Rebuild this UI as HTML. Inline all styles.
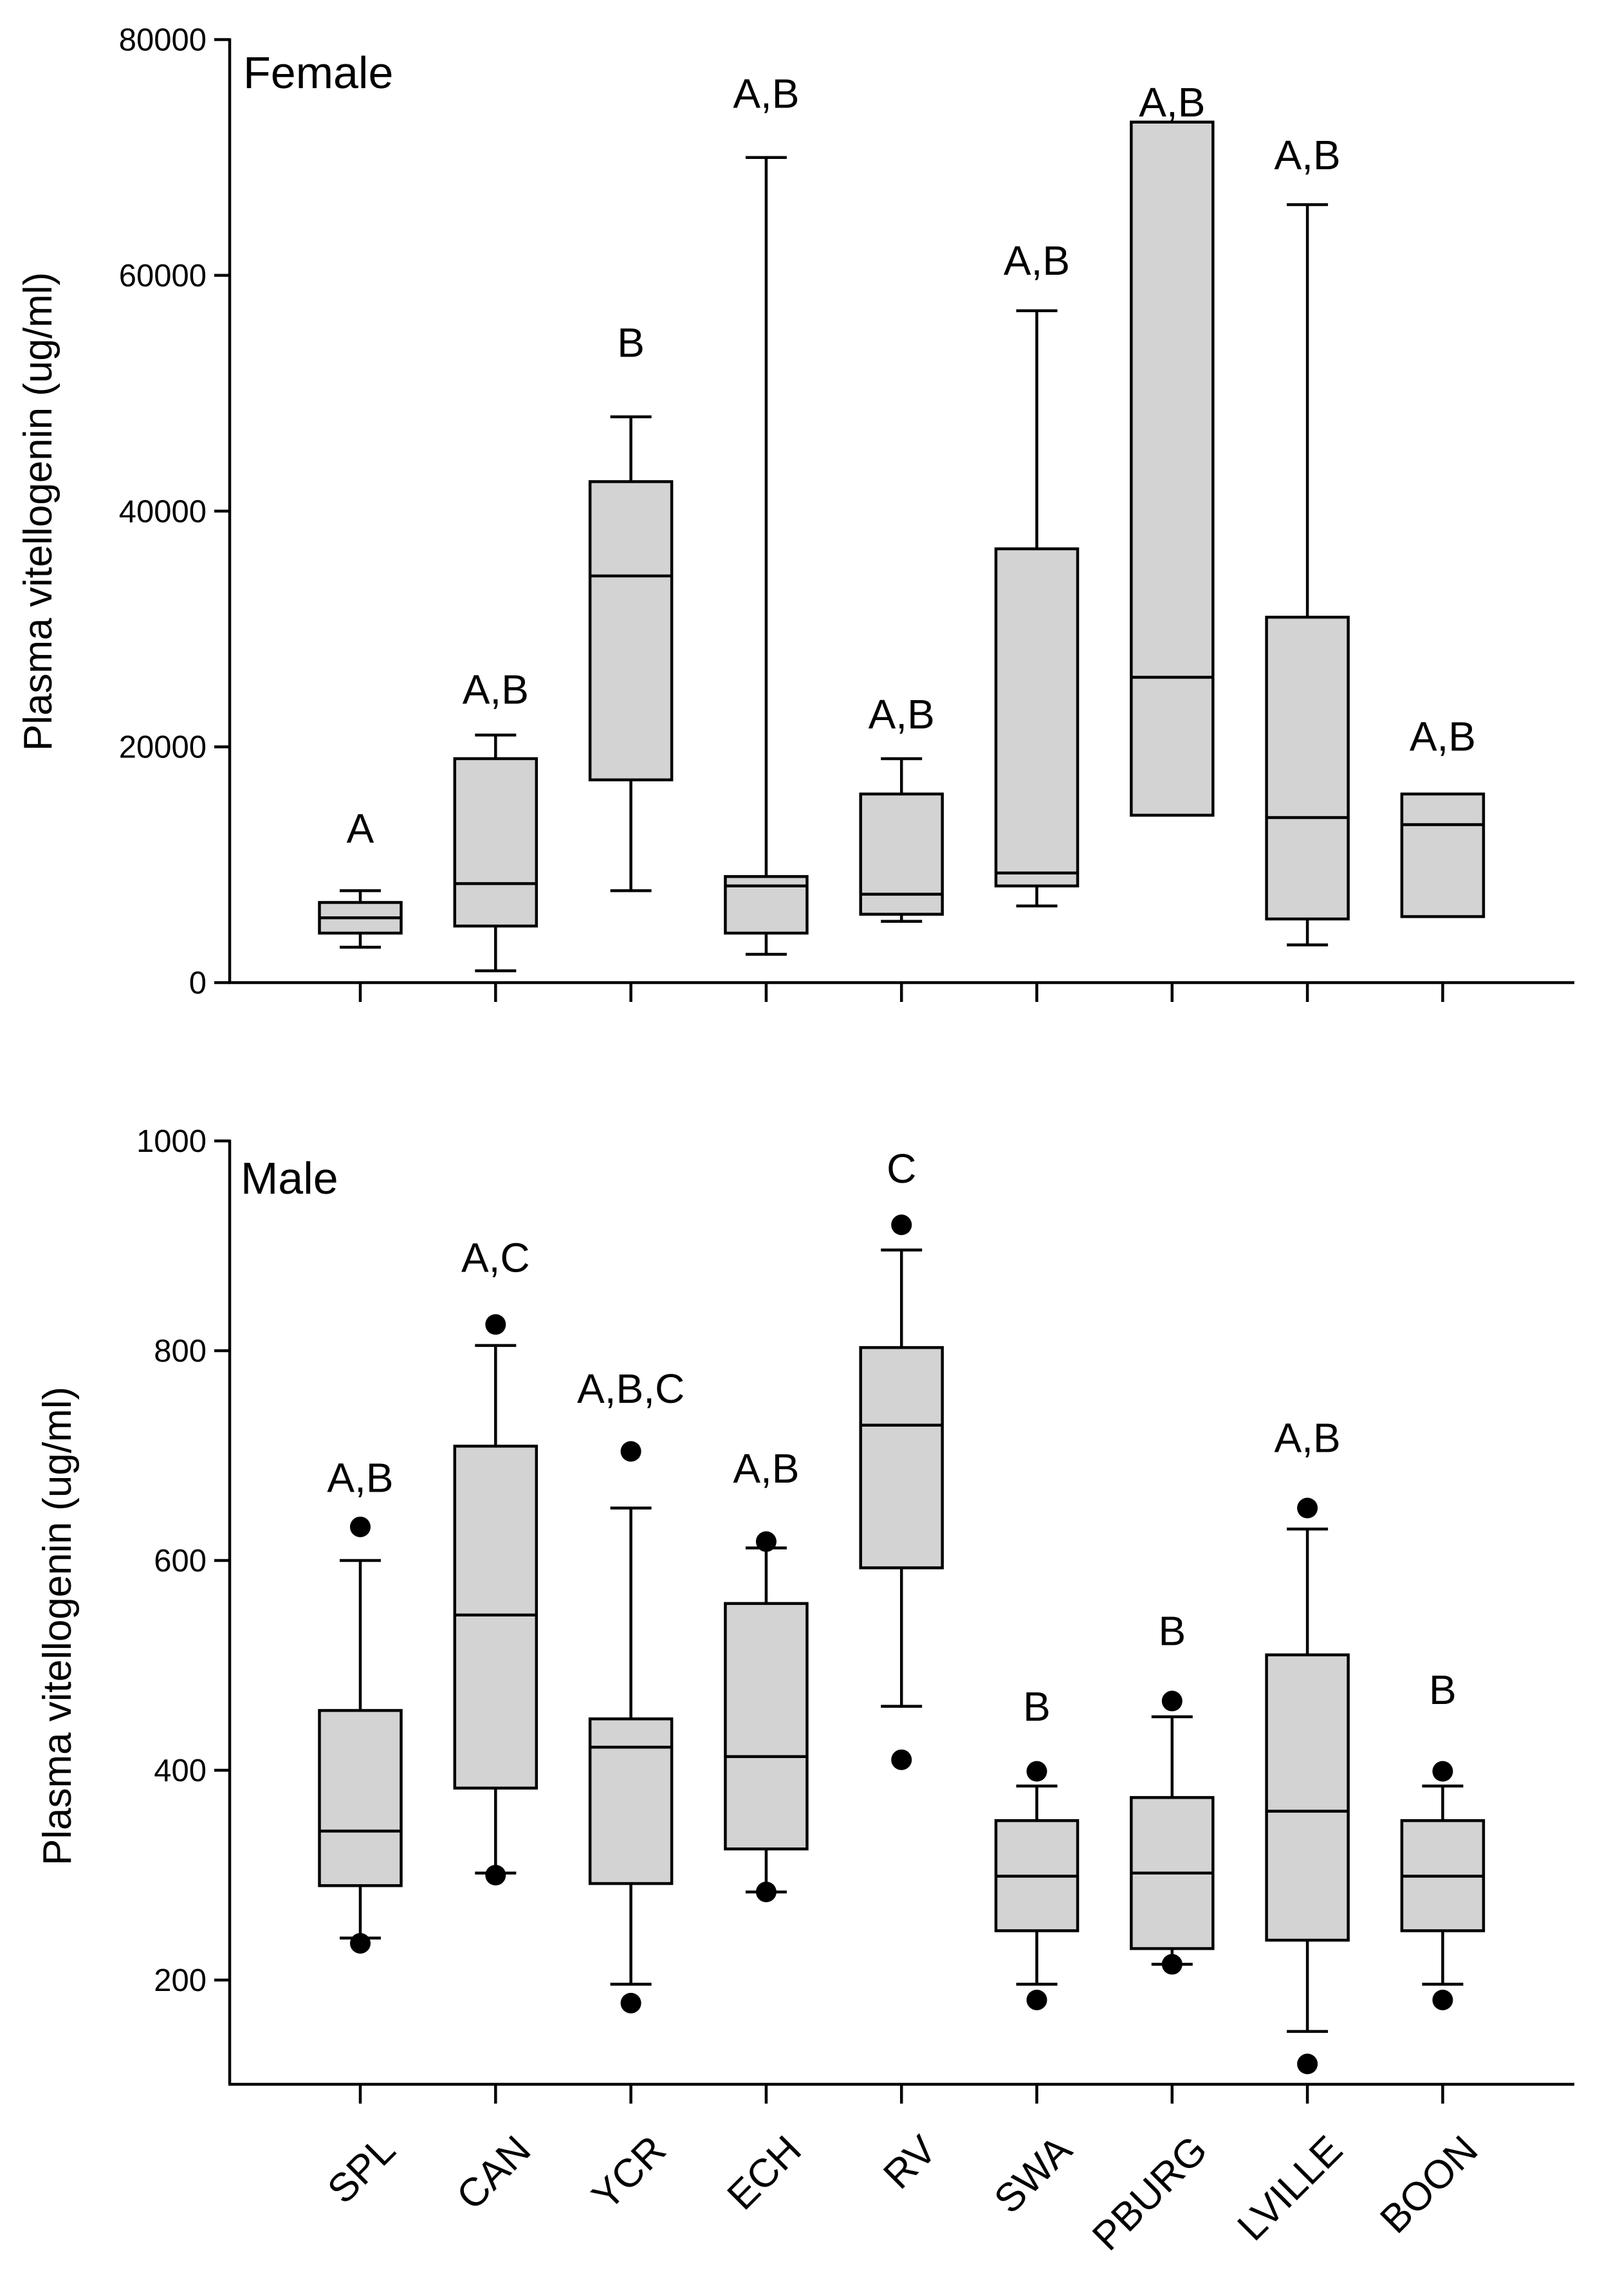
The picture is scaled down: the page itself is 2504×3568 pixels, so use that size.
<!DOCTYPE html>
<html><head><meta charset="utf-8">
<style>html,body{margin:0;padding:0;background:#fff}svg{display:block}text{font-family:"Liberation Sans",Arial,sans-serif;fill:#000}</style>
</head><body>
<svg id="chart" width="2504" height="3568" viewBox="0 0 2504 3568" xmlns="http://www.w3.org/2000/svg"></svg>
<script>
const categories = ["SPL","CAN","YCR","ECH","RV","SWA","PBURG","LVILLE","BOON"];
// Female: [whiskerLow, q1, median, q3, whiskerHigh] (null = no whisker)
const femaleLow = [3000,1000,7800,2400,5200,6500,null,3200,null];
const femaleQ1 = [4200,4800,17200,4200,5800,8200,14200,5400,5600];
const femaleMed = [5500,8400,34500,8200,7500,9300,25900,14000,13400];
const femaleQ3 = [6800,19000,42500,9000,16000,36800,73000,31000,16000];
const femaleHigh = [7800,21000,48000,70000,19000,57000,null,66000,null];
const femaleLetters = ["A","A,B","B","A,B","A,B","A,B","A,B","A,B","A,B"];
const femaleLetterPos = [13170,24970,54400,75530,22860,61370,74800,70310,20990];
const femaleTicks = [0,20000,40000,60000,80000];
// Male
const maleLow = [240,302,196,284,461,196,215,151,196];
const maleQ1 = [290,383,292,325,593,247,230,238,247];
const maleMed = [342,548,422,413,729,299,302,361,299];
const maleQ3 = [457,709,449,559,803,352,374,510,352];
const maleHigh = [600,805,650,612,896,385,451,630,385];
const maleOutHigh = [632,825,704,618,920,399,466,650,399];
const maleOutLow = [235,300,178,284,410,181,215,120,181];
const maleLetters = ["A,B","A,C","A,B,C","A,B","C","B","B","A,B","B"];
const maleLetterPos = [680,890,765,689,975,462,534,718,478];
const maleTicks = [200,400,600,800,1000];

const svg = document.getElementById('chart');
const NS = "http://www.w3.org/2000/svg";
function mk(tag, attrs, parent){const e=document.createElementNS(NS,tag);for(const k in attrs)e.setAttribute(k,attrs[k]);(parent||svg).appendChild(e);return e;}
const X0 = 357, X1 = 2447, SP = 210.3, FIRST = 560, BW = 127, CAP = 64, LW = 4.5;
function xPos(i){return FIRST + i*SP;}

function panel(cfg){
  const g = mk('g',{});
  
  
  const y = v => cfg.yTop + (cfg.vTop - v)/(cfg.vTop - cfg.vBot)*(cfg.yBot - cfg.yTop);
  const yAxisBottom = cfg.axisY;
  const ax = mk('line',{x1:X0,y1:y(cfg.vTop)-2,x2:X0,y2:yAxisBottom,stroke:'#000','stroke-width':LW},g);
   
  const xa = mk('line',{x1:X0-2,y1:yAxisBottom,x2:X1,y2:yAxisBottom,stroke:'#000','stroke-width':LW},g);
   
  cfg.ticks.forEach(t=>{
    mk('line',{x1:X0-24,y1:y(t),x2:X0,y2:y(t),stroke:'#000','stroke-width':LW},g);
    const tl = mk('text',{x:X0-36,y:y(t)+17,'font-size':49,'text-anchor':'end'},g);
    tl.textContent = t;
     
  });
  const title = mk('text',{x:0,y:0,'font-size':62,'text-anchor':'middle',transform:`translate(${cfg.titleX},${cfg.titleY}) rotate(-90)`},g);
  title.textContent = 'Plasma vitellogenin (ug/ml)';
   
  const pl = mk('text',{x:cfg.labelX,y:cfg.labelY,'font-size':70},g);
  pl.textContent = cfg.panelLabel;
   
  categories.forEach((c,i)=>{
    const cx = xPos(i);
    mk('line',{x1:cx,y1:yAxisBottom,x2:cx,y2:yAxisBottom+30,stroke:'#000','stroke-width':LW},g);
    if(cfg.high[i]!=null){
      mk('line',{x1:cx,y1:y(cfg.q3[i]),x2:cx,y2:y(cfg.high[i]),stroke:'#000','stroke-width':LW},g);
      mk('line',{x1:cx-CAP/2,y1:y(cfg.high[i]),x2:cx+CAP/2,y2:y(cfg.high[i]),stroke:'#000','stroke-width':LW},g);
    }
    if(cfg.low[i]!=null){
      mk('line',{x1:cx,y1:y(cfg.q1[i]),x2:cx,y2:y(cfg.low[i]),stroke:'#000','stroke-width':LW},g);
      mk('line',{x1:cx-CAP/2,y1:y(cfg.low[i]),x2:cx+CAP/2,y2:y(cfg.low[i]),stroke:'#000','stroke-width':LW},g);
    }
    const b = mk('rect',{x:cx-BW/2,y:y(cfg.q3[i]),width:BW,height:y(cfg.q1[i])-y(cfg.q3[i]),fill:'#d3d3d3',stroke:'#000','stroke-width':LW},g);
     
    mk('line',{x1:cx-BW/2,y1:y(cfg.med[i]),x2:cx+BW/2,y2:y(cfg.med[i]),stroke:'#000','stroke-width':LW},g);
    if(cfg.outHigh){
      [cfg.outHigh[i],cfg.outLow[i]].forEach(v=>{
        const d = mk('circle',{cx:cx,cy:y(v),r:16,fill:'#000'},g);
         
      });
    }
    const lt = mk('text',{x:cx,y:y(cfg.letterPos[i])+24,'font-size':64,'text-anchor':'middle'},g);
    lt.textContent = cfg.letters[i];
     
  });
  return y;
}

panel({name:'female-panel',yTop:61.5,yBot:1527,vTop:80000,vBot:0,axisY:1527,ticks:femaleTicks,
  titleX:80,titleY:795,labelX:378,labelY:137,panelLabel:'Female',
  low:femaleLow,q1:femaleQ1,med:femaleMed,q3:femaleQ3,high:femaleHigh,letters:femaleLetters,letterPos:femaleLetterPos});
panel({name:'male-panel',yTop:1773,yBot:3077,vTop:1000,vBot:200,axisY:3239,ticks:maleTicks,
  titleX:110,titleY:2527,labelX:374,labelY:1855,panelLabel:'Male',
  low:maleLow,q1:maleQ1,med:maleMed,q3:maleQ3,high:maleHigh,outHigh:maleOutHigh,outLow:maleOutLow,letters:maleLetters,letterPos:maleLetterPos});

categories.forEach((c,i)=>{
  const ax = xPos(i)+58, ay = 3345;
  const t = mk('text',{x:0,y:0,'font-size':62,'text-anchor':'end',transform:`translate(${ax},${ay}) rotate(-45)`});
  t.textContent = c;
   
});
</script>
</body></html>
